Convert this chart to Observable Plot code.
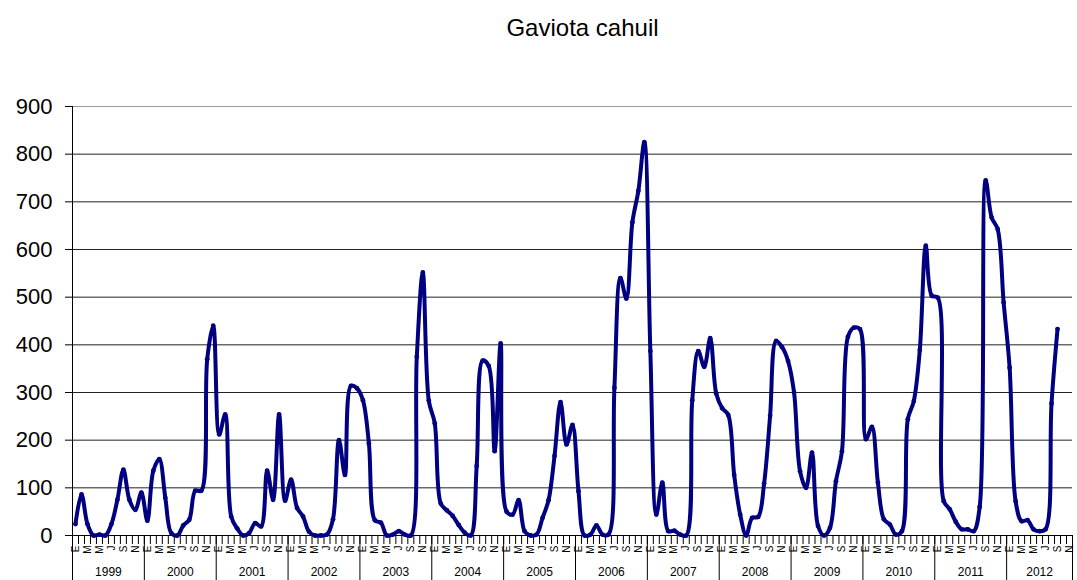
<!DOCTYPE html>
<html>
<head>
<meta charset="utf-8">
<script src="https://cdn.jsdelivr.net/npm/d3@7"></script>
<script src="https://cdn.jsdelivr.net/npm/@observablehq/plot@0.6"></script>
<style>
  body { margin: 0; background: #fff; }
  #chart svg { display: block; }
</style>
</head>
<body>
<div id="chart"></div>
<script>
const title = "Gaviota cahuil";
const years = [1999, 2000, 2001, 2002, 2003, 2004, 2005, 2006, 2007, 2008, 2009, 2010, 2011, 2012];
const monthLetters = ["E", "F", "M", "A", "M", "J", "J", "A", "S", "O", "N", "D"];
const nCategories = 167; // Jan 1999 .. Nov 2012
const yTicks = [0, 100, 200, 300, 400, 500, 600, 700, 800, 900];

// monthly counts, Jan 1999 .. Sep 2012
const counts1999 = [24, 86, 24, 0, 2, 0, 24, 75, 138, 75, 54, 90];
const counts2000 = [31, 136, 160, 79, 5, 0, 21, 33, 94, 94, 370, 440];
const counts2001 = [212, 254, 40, 15, 0, 5, 26, 19, 136, 75, 254, 73];
const counts2002 = [117, 58, 40, 8, 0, 0, 2, 34, 200, 127, 314, 309];
const counts2003 = [284, 193, 32, 27, 0, 2, 9, 2, 0, 375, 552, 283];
const counts2004 = [235, 67, 53, 41, 22, 6, 0, 146, 367, 356, 177, 403];
const counts2005 = [50, 44, 74, 9, 0, 2, 37, 74, 167, 280, 191, 232];
const counts2006 = [93, 0, 2, 21, 2, 2, 310, 540, 497, 657, 723, 825];
const counts2007 = [387, 44, 111, 9, 10, 2, 0, 284, 387, 354, 414, 298];
const counts2008 = [267, 253, 127, 44, 0, 37, 39, 109, 251, 408, 395, 366];
const counts2009 = [300, 135, 100, 174, 20, 0, 16, 114, 177, 417, 436, 433];
const counts2010 = [202, 228, 111, 34, 23, 2, 9, 244, 282, 389, 608, 503];
const counts2011 = [499, 72, 55, 29, 13, 13, 9, 60, 745, 667, 643, 489];
const counts2012 = [352, 72, 30, 32, 13, 9, 13, 277, 433];

const counts = [].concat(counts1999, counts2000, counts2001, counts2002, counts2003,
  counts2004, counts2005, counts2006, counts2007, counts2008, counts2009,
  counts2010, counts2011, counts2012);

const data = counts.map((v, i) => ({x: i + 0.5, v}));
const boundaries = d3.range(0, nCategories + 1);
const yearBounds = years.map((y, k) => k * 12).concat([nCategories]);
const yearCenters = years.map((y, k) => (k * 12 + Math.min(k * 12 + 12, nCategories)) / 2);
const monthTicks = d3.range(0, nCategories).filter(i => i % 2 === 0).map(i => i + 0.5);

const font = "'Liberation Sans', Arial, sans-serif";

const chart = Plot.plot({
  width: 1077,
  height: 580,
  marginLeft: 72,
  marginRight: 5,
  marginTop: 106,
  marginBottom: 45,
  style: {fontFamily: font, background: "#fff", color: "#000"},
  x: {domain: [0, nCategories], axis: null},
  y: {domain: [0, 900], axis: null},
  marks: [
    Plot.gridY(yTicks.filter(d => d > 0 && d < 900), {stroke: "#222", strokeOpacity: 1, strokeWidth: 1}),
    Plot.ruleY([900], {stroke: "#999"}),
    Plot.ruleX([0], {stroke: "#000"}),
    Plot.ruleY([0], {stroke: "#000"}),
    Plot.axisY(yTicks, {label: null, tickSize: 7, tickPadding: 13, fontSize: 22, stroke: "#000"}),
    Plot.axisX(boundaries, {label: null, tickSize: 9, tickFormat: () => "", stroke: "#000"}),
    Plot.axisX(yearBounds, {label: null, tickSize: 45, tickFormat: () => "", stroke: "#000"}),
    Plot.axisX(monthTicks, {label: null, tickSize: 0, tickPadding: 10, tickRotate: -90, fontSize: 10,
      tickFormat: v => monthLetters[Math.floor(v) % 12]}),
    Plot.axisX(yearCenters, {label: null, tickSize: 0, tickPadding: 32, fontSize: 12,
      tickFormat: v => String(years[Math.floor(v / 12)])}),
    Plot.line(data, {x: "x", y: "v", stroke: "#000080", strokeWidth: 4, curve: "catmull-rom"}),
    Plot.dot(data, {x: "x", y: "v", r: 2.4, fill: "#000080"}),
    Plot.text([title], {frameAnchor: "top", dy: -88, dx: 10, fontSize: 24, fill: "#000"})
  ]
});
document.getElementById("chart").append(chart);
</script>
</body>
</html>
